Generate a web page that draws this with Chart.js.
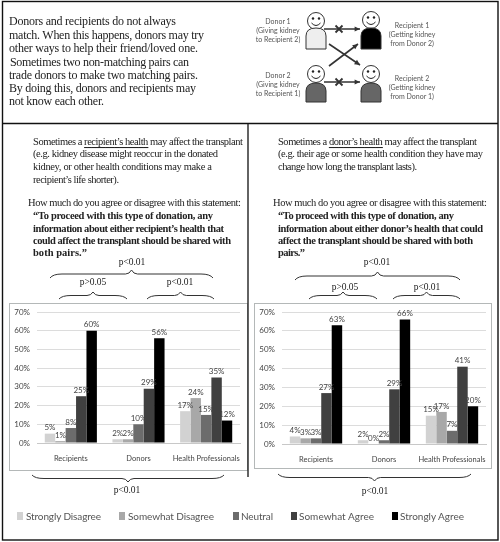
<!DOCTYPE html>
<html>
<head>
<meta charset="utf-8">
<script src="https://cdn.jsdelivr.net/npm/chart.js@4"></script>
<style>
  html, body { margin: 0; padding: 0; background: #fff; }
  #page { position: relative; width: 500px; height: 542px; overflow: hidden; filter: blur(0.4px); }
  .box { position: absolute; box-sizing: border-box; border: 1px solid #b4b8b8; background: #fff; }
  .box canvas { position: absolute; left: 0; top: 0; }
  #overlay { position: absolute; left: 0; top: 0; pointer-events: none; }
  #overlay text { dominant-baseline: central; }
  .serif { font-family: "Liberation Serif", serif; font-size: 10.5px; fill: #222; }
  .intro { font-size: 12px; }
  .pval { font-size: 9.5px; }
  .bold { font-weight: bold; }
  .sans { font-family: Lato, sans-serif; fill: #555; }
  .legend-label { font-size: 10px; }
  .small { font-size: 7px; }
</style>
</head>
<body>
<div id="page">
  <div class="box" style="left:9px;top:303px;width:239px;height:168px"><canvas id="chart-recipient"></canvas></div>
  <div class="box" style="left:254px;top:303px;width:238px;height:166px"><canvas id="chart-donor"></canvas></div>
  <svg id="overlay" width="500" height="542" xmlns="http://www.w3.org/2000/svg"></svg>
</div>
<script>
const categories = ['Recipients', 'Donors', 'Health Professionals']
const yTicks = [0, 10, 20, 30, 40, 50, 60, 70]
const seriesNames = ['Strongly Disagree', 'Somewhat Disagree', 'Neutral', 'Somewhat Agree', 'Strongly Agree']
const seriesColors = ['#d2d2d2', '#a8a8a8', '#6c6c6c', '#404040', '#000000']

// recipient's health panel
const recipientStronglyDisagree = [5, 2, 17]
const recipientSomewhatDisagree = [1, 2, 24]
const recipientNeutral = [8, 10, 15]
const recipientSomewhatAgree = [25, 29, 35]
const recipientStronglyAgree = [60, 56, 12]

// donor's health panel
const donorStronglyDisagree = [4, 2, 15]
const donorSomewhatDisagree = [3, 0, 17]
const donorNeutral = [3, 2, 7]
const donorSomewhatAgree = [27, 29, 41]
const donorStronglyAgree = [63, 66, 20]

// draws the % on top of each bar
const barLabels = {
  id: 'barLabels',
  afterDatasetsDraw(chart) {
    const ctx = chart.ctx
    ctx.save()
    ctx.font = '8px Lato, sans-serif'
    ctx.fillStyle = '#444'
    ctx.textAlign = 'center'
    ctx.textBaseline = 'bottom'
    chart.data.datasets.forEach((ds, i) => {
      chart.getDatasetMeta(i).data.forEach((bar, j) => {
        ctx.fillText(ds.data[j] + '%', bar.x, bar.y - 2)
      })
    })
    ctx.restore()
  },
}

function makeChart(id, width, height, rows, leftW, rightPad, topPad, bottomH) {
  const canvas = document.getElementById(id)
  canvas.width = width
  canvas.height = height
  canvas.style.width = width + 'px'
  canvas.style.height = height + 'px'
  return new Chart(canvas, {
    type: 'bar',
    data: {
      labels: categories,
      datasets: rows.map((values, i) => ({
        label: seriesNames[i],
        data: values,
        backgroundColor: seriesColors[i],
        barPercentage: 1,
        categoryPercentage: 0.77,
      })),
    },
    options: {
      responsive: false,
      animation: false,
      layout: { padding: { top: topPad, right: rightPad, left: 0, bottom: 0 } },
      plugins: { legend: { display: false }, tooltip: { enabled: false } },
      scales: {
        x: {
          grid: { display: false, drawTicks: false, tickLength: 0 },
          border: { color: '#c8c8c8' },
          ticks: { color: '#444', font: { family: 'Lato, sans-serif', size: 7.5 }, maxRotation: 0, autoSkip: false, padding: 11 },
          afterFit: (axis) => {
            axis.height = bottomH
            axis.paddingLeft = 0
            axis.paddingRight = 0
          },
        },
        y: {
          min: 0,
          max: 70,
          afterBuildTicks: (axis) => { axis.ticks = yTicks.map((value) => ({ value })) },
          grid: { color: '#dcdcdc', drawTicks: false },
          border: { display: false },
          ticks: { color: '#444', font: { family: 'Lato, sans-serif', size: 8 }, padding: 7, callback: (v) => v + '%' },
          afterFit: (axis) => {
            axis.width = leftW
            axis.paddingTop = 0
            axis.paddingBottom = 0
          },
        },
      },
    },
    plugins: [barLabels],
  })
}

makeChart('chart-recipient', 237, 166,
  [recipientStronglyDisagree, recipientSomewhatDisagree, recipientNeutral, recipientSomewhatAgree, recipientStronglyAgree],
  27, 7, 8, 27)
makeChart('chart-donor', 236, 164,
  [donorStronglyDisagree, donorSomewhatDisagree, donorNeutral, donorSomewhatAgree, donorStronglyAgree],
  27, 5, 8, 24)

// everything around the charts: text, braces, kidney swap diagram
const svg = document.getElementById('overlay')
let out = ''

function line(x, y, width, html, cls) {
  out += `<text x="${x}" y="${y}" class="${cls || 'serif'}" textLength="${width}" lengthAdjust="spacing" xml:space="preserve">${html}</text>`
}
function centered(x, y, html, cls) {
  out += `<text x="${x}" y="${y}" class="${cls || 'serif pval'}" text-anchor="middle">${html}</text>`
}
function brace(x1, x2, yEnd, yTip) {
  const yMid = (yEnd + yTip) / 2
  const xm = (x1 + x2) / 2
  out += `<path d="M${x1} ${yEnd} Q${x1 + 3} ${yMid} ${x1 + 12} ${yMid} L${xm - 6} ${yMid} Q${xm - 2} ${yMid} ${xm} ${yTip} Q${xm + 2} ${yMid} ${xm + 6} ${yMid} L${x2 - 12} ${yMid} Q${x2 - 3} ${yMid} ${x2} ${yEnd}" fill="none" stroke="#333" stroke-width="1"/>`
}
function person(cx, headY, bodyTop, bodyBottom, fill) {
  const hw = 10
  out += `<circle cx="${cx}" cy="${headY}" r="8.5" fill="#fff" stroke="#333" stroke-width="1"/>`
  out += `<circle cx="${cx - 3}" cy="${headY - 2.5}" r="1.2" fill="#222"/><circle cx="${cx + 3}" cy="${headY - 2.5}" r="1.2" fill="#222"/>`
  out += `<path d="M${cx - 4.5} ${headY + 2} Q${cx} ${headY + 7} ${cx + 4.5} ${headY + 2}" fill="none" stroke="#222" stroke-width="1"/>`
  out += `<path d="M${cx - hw} ${bodyBottom} L${cx - hw} ${bodyTop + 8} Q${cx - hw} ${bodyTop} ${cx} ${bodyTop} Q${cx + hw} ${bodyTop} ${cx + hw} ${bodyTop + 8} L${cx + hw} ${bodyBottom} Z" fill="${fill}" stroke="#333" stroke-width="1"/>`
}
function arrow(x1, y1, x2, y2) {
  const a = Math.atan2(y2 - y1, x2 - x1)
  const p1 = [x2 - 6 * Math.cos(a - 0.45), y2 - 6 * Math.sin(a - 0.45)]
  const p2 = [x2 - 6 * Math.cos(a + 0.45), y2 - 6 * Math.sin(a + 0.45)]
  out += `<line x1="${x1}" y1="${y1}" x2="${x2}" y2="${y2}" stroke="#333" stroke-width="1.6"/>`
  out += `<polygon points="${x2},${y2} ${p1[0]},${p1[1]} ${p2[0]},${p2[1]}" fill="#333"/>`
}
function cross(cx, cy) {
  out += `<path d="M${cx - 3.5} ${cy - 3.5} L${cx + 3.5} ${cy + 3.5} M${cx + 3.5} ${cy - 3.5} L${cx - 3.5} ${cy + 3.5}" stroke="#333" stroke-width="1.8"/>`
}

// frame
out += '<rect x="2.5" y="1.5" width="495.5" height="538.5" fill="none" stroke="#111" stroke-width="1.4"/>'
out += '<line x1="2" y1="123.5" x2="498" y2="123.5" stroke="#111" stroke-width="1.4"/>'
out += '<line x1="248" y1="124" x2="248" y2="477" stroke="#222" stroke-width="1.4"/>'

// intro
line(9, 21, 167, 'Donors and recipients do not always', 'serif intro')
line(9, 35, 195, 'match. When this happens, donors may try', 'serif intro')
line(9, 48, 189, 'other ways to help their friend/loved one.', 'serif intro')
line(10, 62, 179, 'Sometimes two non-matching pairs can', 'serif intro')
line(9, 75, 189, 'trade donors to make two matching pairs.', 'serif intro')
line(9, 88, 187, 'By doing this, donors and recipients may', 'serif intro')
line(9, 101, 95, 'not know each other.', 'serif intro')

// left panel text
line(33, 141, 210, 'Sometimes a <tspan text-decoration="underline">recipient’s health</tspan> may affect the transplant')
line(33, 153, 185, '(e.g. kidney disease might reoccur in the donated')
line(33, 166, 179, 'kidney, or other health conditions may make a')
line(33, 179, 86, 'recipient’s life shorter).')
line(28, 202, 213, 'How much do you agree or disagree with this statement:')
line(33, 215, 180, '“To proceed with this type of donation, any', 'serif bold')
line(33, 228, 191, 'information about either recipient’s health that', 'serif bold')
line(33, 240, 198, 'could affect the transplant should be shared with', 'serif bold')
line(33, 252, 54, 'both pairs.”', 'serif bold')
centered(132, 262, 'p&lt;0.01')
brace(50, 213, 278, 270)
centered(93, 282, 'p&gt;0.05')
centered(180, 282, 'p&lt;0.01')
brace(59, 127, 299, 292)
brace(147, 214, 299, 292)
brace(32, 224, 475, 482)
centered(127, 490, 'p&lt;0.01')

// right panel text
line(278, 141, 199, 'Sometimes a <tspan text-decoration="underline">donor’s health</tspan> may affect the transplant')
line(278, 153, 205, '(e.g. their age or some health condition they have may')
line(278, 166, 139, 'change how long the transplant lasts).')
line(273, 202, 214, 'How much do you agree or disagree with this statement:')
line(278, 215, 176, '“To proceed with this type of donation, any', 'serif bold')
line(278, 228, 205, 'information about either donor’s health that could', 'serif bold')
line(278, 240, 195, 'affect the transplant should be shared with both', 'serif bold')
line(278, 252, 27, 'pairs.”', 'serif bold')
centered(377, 262, 'p&lt;0.01')
brace(295, 460, 280, 272)
centered(345, 287, 'p&gt;0.05')
centered(427, 287, 'p&lt;0.01')
brace(309, 377, 299, 292)
brace(393, 460, 299, 292)
brace(278, 471, 474, 481)
centered(375, 491, 'p&lt;0.01')

// legend
const legendSwatchX = [17, 119, 233, 291, 392]
const legendTextX = [26, 128, 241, 299, 400]
const legendTextW = [75, 86, 32, 75, 64]
seriesNames.forEach((name, i) => {
  out += `<rect x="${legendSwatchX[i]}" y="512" width="6" height="8" fill="${seriesColors[i]}"/>`
  line(legendTextX[i], 516, legendTextW[i], name, 'sans legend-label')
})

// swap diagram
centered(278, 21, 'Donor 1', 'sans small')
centered(278, 30, '(Giving kidney', 'sans small')
centered(278, 39, 'to Recipient 2)', 'sans small')
centered(278, 75, 'Donor 2', 'sans small')
centered(278, 84, '(Giving kidney', 'sans small')
centered(278, 93, 'to Recipient 1)', 'sans small')
centered(412, 25, 'Recipient 1', 'sans small')
centered(412, 34, '(Getting kidney', 'sans small')
centered(412, 43, 'from Donor 2)', 'sans small')
centered(412, 78, 'Recipient 2', 'sans small')
centered(412, 87, '(Getting kidney', 'sans small')
centered(412, 96, 'from Donor 1)', 'sans small')
person(316, 21, 28, 49, '#eeeeee')
person(371, 20, 28, 49, '#000000')
person(316, 74, 83, 102, '#666666')
person(371, 74, 83, 102, '#666666')
arrow(324, 29, 360, 29)
arrow(324, 82, 360, 82)
cross(339, 29)
cross(339, 82)
arrow(329, 66, 358, 44)
arrow(329, 44, 360, 65)

svg.innerHTML = out
</script>
</body>
</html>
